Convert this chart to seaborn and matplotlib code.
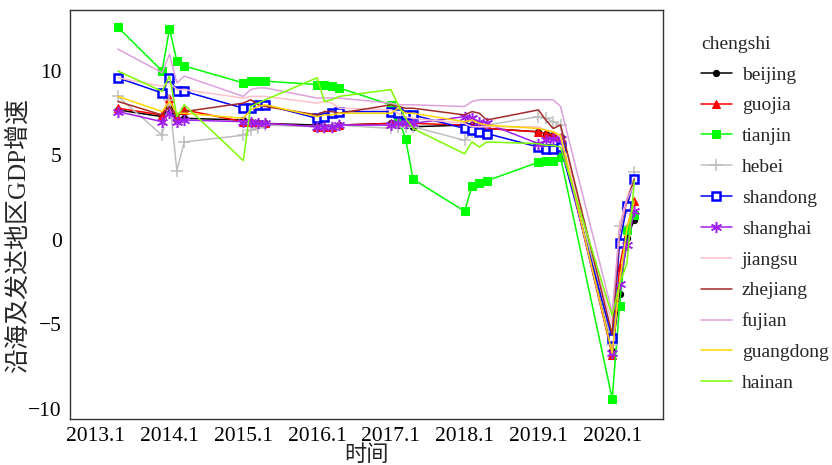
import numpy as np
import pandas as pd
import matplotlib
matplotlib.use("Agg")
import matplotlib.pyplot as plt
import seaborn as sns

sns.set_style("white")
plt.rcParams['font.family'] = ['Liberation Serif', 'Noto Sans CJK SC']
plt.rcParams['axes.unicode_minus'] = True

# 时间 (year.quarter)
shijian = [2013.4, 2014.0, 2014.1, 2014.2, 2014.3,
           2015.1, 2015.2, 2015.3, 2015.4,
           2016.1, 2016.2, 2016.3, 2016.4,
           2017.1, 2017.2, 2017.3, 2017.4,
           2018.1, 2018.2, 2018.3, 2018.4,
           2019.1, 2019.2, 2019.3, 2019.4,
           2020.1, 2020.2, 2020.3, 2020.4]

beijing = [7.7, 7.3, 7.8, 7.1, 7.2,
           7.1, 7.0, 6.9, 6.9,
           6.8, 6.7, 6.7, 6.8,
           6.9, 6.8, 6.8, 6.7,
           6.8, 6.8, 6.7, 6.6,
           6.4, 6.3, 6.2, 6.1,
           -6.6, -3.2, 0.1, 1.2]
guojia = [7.8, 7.4, 8.4, 7.3, 7.7,
          7.0, 7.0, 6.9, 6.9,
          6.7, 6.7, 6.7, 6.8,
          6.9, 6.9, 6.9, 6.9,
          6.8, 6.8, 6.7, 6.6,
          6.4, 6.3, 6.2, 6.1,
          -6.8, -1.6, 0.7, 2.3]
tianjin = [12.6, 10.0, 12.5, 10.6, 10.3,
           9.3, 9.4, 9.4, 9.4,
           9.2, 9.2, 9.1, 9.0,
           8.0, 7.2, 6.0, 3.6,
           1.7, 3.2, 3.35, 3.5,
           4.6, 4.65, 4.7, 4.9,
           -9.4, -3.9, 0.6, 1.5]
hebei = [8.5, 6.2, 8.3, 4.1, 5.8,
         6.2, 6.5, 6.6, 6.8,
         6.7, 6.6, 6.6, 6.8,
         6.6, 6.7, 6.7, 6.7,
         5.9, 6.4, 6.6, 6.8,
         7.3, 7.2, 7.0, 6.8,
         -6.2, 0.8, 1.9, 4.0]
shandong = [9.6, 8.7, 9.6, 8.8, 8.8,
            7.8, 7.8, 8.0, 8.0,
            7.2, 7.3, 7.5, 7.6,
            7.6, 7.5, 7.4, 7.4,
            6.6, 6.5, 6.4, 6.3,
            5.5, 5.4, 5.4, 5.5,
            -5.8, -0.2, 2.0, 3.6]
shanghai = [7.6, 7.0, 7.5, 7.0, 7.1,
            7.0, 7.0, 6.9, 6.9,
            6.7, 6.7, 6.7, 6.8,
            6.8, 6.9, 6.9, 6.9,
            7.3, 7.2, 7.0, 6.9,
            5.7, 5.9, 6.0, 6.0,
            -6.7, -2.6, -0.3, 1.7]
jiangsu = [9.6, 9.1, 9.3, 8.9, 8.9,
           8.4, 8.5, 8.5, 8.5,
           8.1, 8.2, 8.1, 7.8,
           7.7, 7.5, 7.3, 7.2,
           6.9, 6.7, 6.7, 6.7,
           6.7, 6.5, 6.4, 6.1,
           -5.0, 0.9, 2.5, 3.7]
zhejiang = [8.2, 7.4, 7.9, 7.3, 7.6,
            8.1, 8.3, 8.0, 7.9,
            7.4, 7.6, 7.6, 7.5,
            8.0, 7.9, 7.8, 7.8,
            7.4, 7.6, 7.5, 7.1,
            7.7, 7.1, 6.6, 6.8,
            -5.6, 0.5, 2.3, 3.6]
fujian = [11.3, 9.9, 11.0, 9.3, 9.7,
          8.5, 8.9, 9.0, 9.0,
          8.4, 8.4, 8.4, 8.4,
          8.1, 8.0, 8.0, 8.0,
          7.9, 8.2, 8.3, 8.3,
          8.3, 8.3, 8.3, 7.9,
          -4.3, 0.6, 2.4, 3.3]
guangdong = [8.5, 7.6, 8.2, 7.5, 7.5,
             7.2, 7.7, 7.9, 8.0,
             7.3, 7.4, 7.4, 7.5,
             7.5, 7.8, 7.5, 7.5,
             7.0, 7.1, 6.9, 6.8,
             6.6, 6.5, 6.4, 6.2,
             -6.7, -2.5, 0.7, 2.3]
hainan = [10.0, 8.8, 9.7, 7.3, 8.0,
          4.7, 7.9, 8.1, 8.3,
          9.6, 8.2, 8.3, 8.5,
          8.9, 8.0, 7.2, 6.6,
          5.1, 5.8, 5.5, 5.8,
          5.7, 5.6, 5.6, 5.5,
          -4.5, -2.6, -1.4, 3.5]

chengshi = ['beijing', 'guojia', 'tianjin', 'hebei', 'shandong', 'shanghai',
            'jiangsu', 'zhejiang', 'fujian', 'guangdong', 'hainan']
values = [beijing, guojia, tianjin, hebei, shandong, shanghai,
          jiangsu, zhejiang, fujian, guangdong, hainan]

df = pd.DataFrame({
    'shijian': shijian * len(chengshi),
    'zengsu': sum(values, []),
    'chengshi': np.repeat(chengshi, len(shijian)),
})

styles = {
    'beijing':   dict(color='black', marker='o', markersize=4.5),
    'guojia':    dict(color='#FF0000', marker='^', markersize=5.5),
    'tianjin':   dict(color='#00FF00', marker='s', markersize=6),
    'hebei':     dict(color='#BEBEBE', marker='+', markersize=9, markeredgewidth=1.1),
    'shandong':  dict(color='#0000FF', marker='s', markersize=5.5, markerfacecolor='white',
                      markeredgewidth=1.8),
    'shanghai':  dict(color='#A020F0', marker=(6, 2, 0), markersize=8, markeredgewidth=1.1),
    'jiangsu':   dict(color='#FFC0CB'),
    'zhejiang':  dict(color='#A52A2A'),
    'fujian':    dict(color='#DDA0DD'),
    'guangdong': dict(color='#FFD700'),
    'hainan':    dict(color='#7CFC00'),
}

fig = plt.figure(figsize=(8.32, 4.65), dpi=100)
ax = fig.add_axes([0.084, 0.099, 0.713, 0.879])

for name in chengshi:
    sub = df[df['chengshi'] == name]
    st = dict(styles[name])
    st.setdefault('markeredgecolor', st['color'])
    sns.lineplot(data=sub, x='shijian', y='zengsu', label=name, ax=ax,
                 linewidth=1.1, sort=False, estimator=None, **st)

ax.set_xlim(2012.75, 2020.79)
ax.set_ylim(-10.6, 13.6)
ax.set_xticks([2013.1, 2014.1, 2015.1, 2016.1, 2017.1, 2018.1, 2019.1, 2020.1])
ax.set_xticklabels(['2013.1', '2014.1', '2015.1', '2016.1', '2017.1',
                    '2018.1', '2019.1', '2020.1'])
ax.set_yticks([-10, -5, 0, 5, 10])
ax.tick_params(axis='both', direction='out', length=4, width=1, color='#333333',
               labelsize=15.5, labelcolor='black', pad=2)
for s in ax.spines.values():
    s.set_color('#333333')
    s.set_linewidth(1.0)
ax.grid(False)
ax.set_xlabel('时间', fontsize=16, labelpad=-1)
ax.set_ylabel('沿海及发达地区GDP增速', fontsize=18, labelpad=0)
ax.yaxis.set_label_coords(-0.068, 0.45)

handles, labels = ax.get_legend_handles_labels()
ax.legend(handles, labels, title='chengshi', loc='upper left',
          bbox_to_anchor=(0.833, 0.94), bbox_transform=fig.transFigure,
          frameon=False, fontsize=14, title_fontsize=14, handlelength=1.6,
          handletextpad=0.5, labelspacing=0.68, alignment='left', borderaxespad=0)

fig.savefig('out.png', dpi=100)
